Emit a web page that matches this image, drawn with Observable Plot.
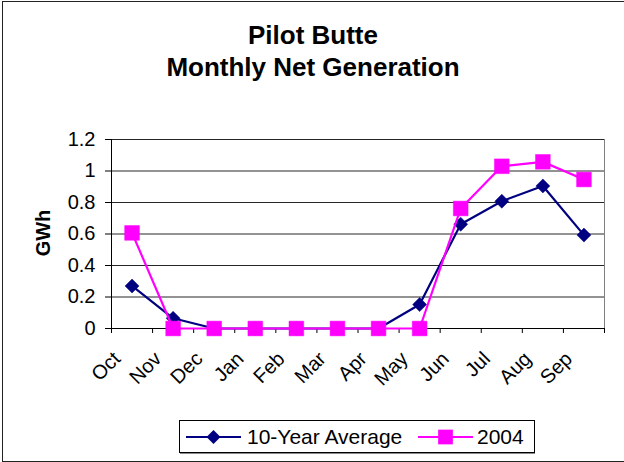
<!DOCTYPE html>
<html>
<head>
<meta charset="utf-8">
<script src="https://cdn.jsdelivr.net/npm/d3@7"></script>
<script src="https://cdn.jsdelivr.net/npm/@observablehq/plot@0.6"></script>
<style>
  html, body { margin: 0; padding: 0; background: #fff; }
  #wrap { position: relative; width: 624px; height: 462px; overflow: hidden; font-family: "Liberation Sans", Arial, sans-serif; color: #000; }
  #frame { position: absolute; left: 2px; top: 1px; width: 660px; height: 461px; box-sizing: border-box; border: 1px solid #222; pointer-events: none; }
  #chart { position: absolute; left: 0; top: 0; }
  .title { position: absolute; left: 113px; width: 400px; text-align: center; font-weight: bold; font-size: 26px; line-height: 26px; white-space: nowrap; }
  #ylabel { position: absolute; left: 43px; top: 233px; transform: translate(-50%, -50%) rotate(-90deg); font-weight: bold; font-size: 20px; white-space: nowrap; }
  #legend { position: absolute; left: 179px; top: 420px; }
</style>
</head>
<body>
<div id="wrap">
  <div id="frame"></div>
  <div id="chart"></div>
  <div class="title" id="t1" style="top:22px">Pilot Butte</div>
  <div class="title" id="t2" style="top:54px">Monthly Net Generation</div>
  <div id="ylabel">GWh</div>
  <div id="legend"></div>
</div>
<script>
const months = ["Oct","Nov","Dec","Jan","Feb","Mar","Apr","May","Jun","Jul","Aug","Sep"];
const avg10 = [0.27, 0.065, 0.0, 0.0, 0.0, 0.0, 0.0, 0.152, 0.662, 0.808, 0.905, 0.593];
const y2004 = [0.607, 0.0, 0.0, 0.0, 0.0, 0.0, 0.0, 0.0, 0.762, 1.03, 1.058, 0.946];
const yTicks = [0, 0.2, 0.4, 0.6, 0.8, 1, 1.2];
const seriesNames = ["10-Year Average", "2004"];
const seriesColors = ["#000080", "#FF00FF"];

const dAvg = months.map((m, i) => ({i, month: m, v: avg10[i]}));
const d04 = months.map((m, i) => ({i, month: m, v: y2004[i]}));
const boundaries = d3.range(-0.5, months.length, 1);

const font = '"Liberation Sans", Arial, sans-serif';

const plot = Plot.plot({
  width: 624,
  height: 462,
  marginLeft: 111,
  marginRight: 20,
  marginTop: 139,
  marginBottom: 134,
  style: {fontFamily: font, fontSize: "20px", color: "#000", background: "transparent"},
  x: {type: "linear", domain: [-0.5, months.length - 0.5]},
  y: {domain: [0, 1.2]},
  marks: [
    Plot.gridY(yTicks, {stroke: "#000", strokeOpacity: 0.85, strokeWidth: 1}),
    Plot.ruleX([months.length - 0.5], {y1: 0, y2: 1.2, stroke: "#808080", strokeWidth: 1}),
    Plot.axisY({ticks: yTicks, tickSize: 6, tickPadding: 10, tickFormat: d => String(d), label: null, fontSize: 20, stroke: "#000"}),
    Plot.axisX({ticks: boundaries, tickSize: 5, tickFormat: () => "", label: null, stroke: "#000"}),
    Plot.axisX({ticks: d3.range(months.length), tickSize: 0, tickRotate: -45, tickPadding: 14, dx: -15, dy: 13, tickFormat: i => months[i], label: null, fontSize: 20}),
    Plot.ruleX([-0.5], {y1: 0, y2: 1.2, stroke: "#000"}),
    Plot.ruleY([0], {stroke: "#000"}),
    Plot.line(dAvg, {x: "i", y: "v", stroke: seriesColors[0], strokeWidth: 2.2}),
    Plot.dot(dAvg, {x: "i", y: "v", symbol: "diamond2", r: 6.3, fill: seriesColors[0], stroke: seriesColors[0], strokeWidth: 0.5}),
    Plot.line(d04, {x: "i", y: "v", stroke: seriesColors[1], strokeWidth: 2.2}),
    Plot.dot(d04, {x: "i", y: "v", symbol: "square", r: 8.3, fill: seriesColors[1], stroke: seriesColors[1], strokeWidth: 0.5})
  ]
});
document.getElementById("chart").appendChild(plot);

// Legend
const lg = d3.select("#legend").append("svg").attr("width", 357).attr("height", 34)
  .style("font-family", font);
lg.append("rect").attr("x", 0.5).attr("y", 0.5).attr("width", 355).attr("height", 32)
  .attr("fill", "#fff").attr("stroke", "#000");
lg.append("line").attr("x1", 1).attr("x2", 356).attr("y1", 33.5).attr("y2", 33.5).attr("stroke", "#888");
const items = [
  {x0: 7, x1: 62, tx: 68, sym: d3.symbolDiamond2, size: Math.PI * 6.3 * 6.3},
  {x0: 239, x1: 294, tx: 298, sym: d3.symbolSquare, size: Math.PI * 8.3 * 8.3}
];
items.forEach((it, k) => {
  const g = lg.append("g");
  g.append("line").attr("x1", it.x0).attr("x2", it.x1).attr("y1", 17).attr("y2", 17)
    .attr("stroke", seriesColors[k]).attr("stroke-width", 2.2);
  g.append("path").attr("d", d3.symbol(it.sym, it.size)())
    .attr("transform", `translate(${(it.x0 + it.x1) / 2},17)`).attr("fill", seriesColors[k]);
  g.append("text").attr("x", it.tx).attr("y", 24).attr("font-size", 21).attr("fill", "#000").text(seriesNames[k]);
});
</script>
</body>
</html>
